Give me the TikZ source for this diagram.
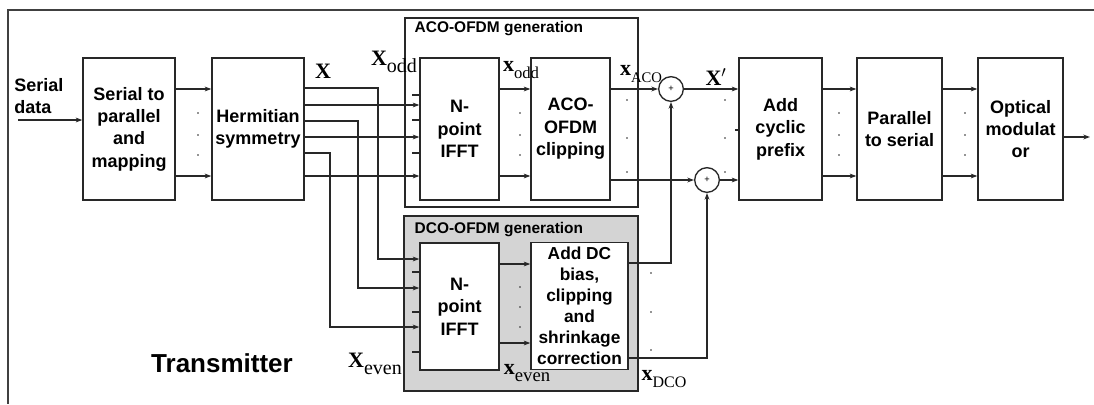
\documentclass[tikz,border=0pt]{standalone}
\usepackage{fontspec}
\setmainfont{Liberation Sans}
\newfontfamily\tmsf{Liberation Serif}
\usetikzlibrary{arrows.meta, positioning, calc}
\definecolor{boxline}{RGB}{40,40,40}
\definecolor{dcogray}{RGB}{212,212,212}
\newcommand{\sig}[3][12.5]{{\tmsf\fontsize{16.5}{16.5}\selectfont\textbf{#2}\raisebox{-0.7ex}{\fontsize{#1}{#1}\selectfont #3}}}

\tikzset{
  blk/.style={draw=boxline, line width=1pt, fill=white, align=center, inner sep=0pt,
    font=\bfseries\fontsize{13.5}{16.8}\selectfont, minimum height=106.5pt},
  arr/.style={-{Stealth[length=5pt,width=3.6pt]}},
  wire/.style={line width=0.9pt, draw=boxline},
  sumnode/.style={circle, draw=boxline, line width=1pt, fill=white, minimum size=18.5pt,
    inner sep=0pt, font=\scriptsize},
  grptitle/.style={anchor=west, font=\bfseries\fontsize{11.6}{11.6}\selectfont},
}

\begin{document}
\begin{tikzpicture}[x=0.75pt, y=-0.75pt]
  \useasboundingbox (0,0) rectangle (1094,404);
  \draw[line width=1pt, black!75] (1094,10) -- (8,10) -- (8,404);

  % generation groups
  \draw[boxline, line width=1pt] (405,18) rectangle (638,207);
  \draw[boxline, line width=1pt, fill=dcogray] (404,216) rectangle (638,391);
  \node[grptitle] (acot) at (410,29) {ACO-OFDM generation};
  \node[grptitle] (dcot) at (410,230) {DCO-OFDM generation};

  % blocks
  \node[blk, minimum width=69pt] (sp) at (129,129) {Serial to\\parallel\\and\\mapping};
  \node[blk, minimum width=69pt] (herm) at (258,129) {Hermitian\\symmetry};
  \node[blk, minimum width=59.25pt] (ifa) at (459.5,129) {N-\\point\\IFFT};
  \node[blk, minimum width=59.25pt] (cla) at (570.5,129) {ACO-\\OFDM\\clipping};
  \node[blk, minimum width=62.25pt] (acp) at (780.5,129) {Add\\cyclic\\prefix};
  \node[blk, minimum width=63.75pt] (ps) at (899.5,129) {Parallel\\to serial};
  \node[blk, minimum width=63.75pt] (opt) at (1020.5,129) {Optical\\modulat\\or};
  \node[blk, minimum width=59.25pt, minimum height=95.25pt] (ifd) at (459.5,306.5) {N-\\point\\IFFT};
  \node[blk, minimum width=72.75pt, minimum height=95.25pt,
    font=\bfseries\fontsize{13}{15.8}\selectfont] (cld) at (579.5,306) {Add DC\\bias,\\clipping\\and\\shrinkage\\correction};

  \node[sumnode] (sa) at (671,89) {+};
  \node[sumnode] (sb) at (707,180) {+};

  % input
  \node[anchor=west, align=left, inner sep=0pt, font=\bfseries\fontsize{13.5}{16.8}\selectfont] (sd) at (14,96) {Serial\\data};
  \coordinate (in) at (18,120);
  \draw[wire, arr] (in) -- (in -| sp.west);

  % parallel lines between blocks
  \foreach \a/\b in {sp/herm, ifa/cla, acp/ps, ps/opt} {
    \draw[wire, arr] (\a.east |- 0,89) -- (\b.west |- 0,89);
    \draw[wire, arr] (\a.east |- 0,176) -- (\b.west |- 0,176);
  }
  \foreach \x in {198,520,839,965}
    \foreach \y in {113,135,155}
      \fill[boxline] (\x,\y) circle (0.7pt);

  % Hermitian outputs
  \foreach \y in {105,137,176}
    \draw[wire, arr] (herm.east |- 0,\y) -- (ifa.west |- 0,\y);
  \foreach \y/\x/\t in {88/378/259, 121/358/288, 153/330/327}
    \draw[wire, arr] (herm.east |- 0,\y) -| (\x,\t) -- (ifd.west |- 0,\t);
  \foreach \y in {95,120,153}
    \draw[wire] (412,\y) -- (ifa.west |- 0,\y);
  \foreach \y in {272,312,352}
    \draw[wire] (412,\y) -- (ifd.west |- 0,\y);

  % DCO branch
  \draw[wire, arr] (ifd.east |- 0,264) -- (cld.west |- 0,264);
  \draw[wire, arr] (ifd.east |- 0,343) -- (cld.west |- 0,343);
  \foreach \y in {287,307,327}
    \fill[boxline] (520,\y) circle (0.7pt);

  % combining
  \draw[wire, arr] (cla.east |- sa) -- (sa.west);
  \draw[wire, arr] (cla.east |- sb) -- (sb.west);
  \draw[wire, arr] (sa.east) -- (sa -| acp.west);
  \draw[wire, arr] (sb.east) -- (sb -| acp.west);
  \draw[wire, arr] (cld.east |- 0,263) -| (sa.south);
  \draw[wire, arr] (cld.east |- 0,358) -| (sb.south);
  \fill[boxline] (671,180) circle (1.2pt);
  \foreach \y in {100,138,172} {
    \fill[boxline] (627,\y) circle (0.7pt);
    \fill[boxline] (725,\y) circle (0.7pt);
  }
  \foreach \y in {273,312,350}
    \fill[boxline] (651,\y) circle (0.7pt);
  \draw[wire] (735,130) -- (acp.west |- 0,130);

  % output
  \coordinate (out) at (1090,137);
  \draw[wire, arr] (opt.east |- out) -- (out);

  % signal labels
  \node (lX) at (323,75) {\sig{X}{}};
  \node (lXo) at (394,62) {\sig[15]{X}{odd}};
  \node (lxo) at (521,70) {\sig{x}{odd}};
  \node (lxa) at (641,74) {\sig[11]{x}{ACO}};
  \node (lXp) at (716,77) {\tmsf\fontsize{16.5}{16.5}\selectfont\textbf{X}$^{\prime}$};
  \node (lXe) at (375,364) {\sig[15]{X}{even}};
  \node (lxe) at (527,373) {\sig[14]{x}{even}};
  \node (lxd) at (664,379) {\sig[12]{x}{DCO}};
  \node[font=\bfseries\fontsize{19.5}{19.5}\selectfont] (tx) at (222,363) {Transmitter};
\end{tikzpicture}
\end{document}
